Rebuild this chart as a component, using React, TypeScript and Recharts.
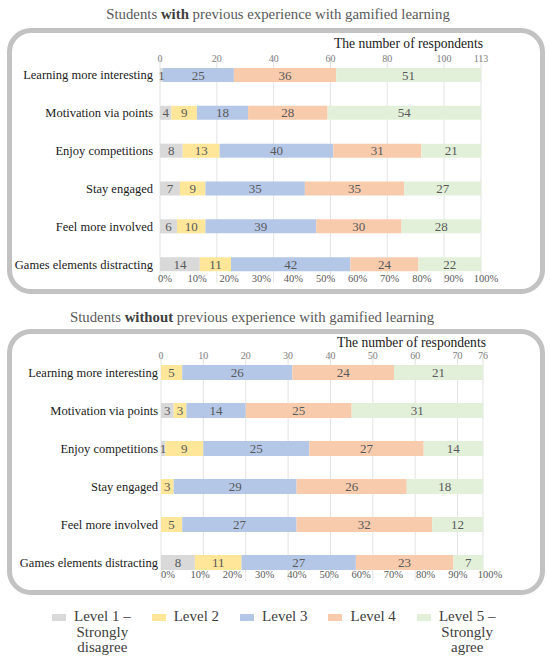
import React from 'react';
import { BarChart, Bar, XAxis, YAxis, CartesianGrid, LabelList } from 'recharts';

const categories = [
  'Learning more interesting',
  'Motivation via points',
  'Enjoy competitions',
  'Stay engaged',
  'Feel more involved',
  'Games elements distracting',
];

const levelNames = ['Level 1 – Strongly disagree', 'Level 2', 'Level 3', 'Level 4', 'Level 5 – Strongly agree'];
const legendLines = [['Level 1 –', 'Strongly', 'disagree'], ['Level 2'], ['Level 3'], ['Level 4'], ['Level 5 –', 'Strongly', 'agree']];
const COLORS = ['#d9d9d9', '#ffe699', '#b4c7e7', '#f8cbad', '#e2f0d9'];

// students with previous experience (n = 113)
const withL1 = [1, 4, 8, 7, 6, 14];
const withL2 = [0, 9, 13, 9, 10, 11];
const withL3 = [25, 18, 40, 35, 39, 42];
const withL4 = [36, 28, 31, 35, 30, 24];
const withL5 = [51, 54, 21, 27, 28, 22];
const withTicks = [0, 20, 40, 60, 80, 100, 113];

// students without previous experience (n = 76)
const withoutL1 = [0, 3, 1, 0, 0, 8];
const withoutL2 = [5, 3, 9, 3, 5, 11];
const withoutL3 = [26, 14, 25, 29, 27, 27];
const withoutL4 = [24, 25, 27, 26, 32, 23];
const withoutL5 = [21, 31, 14, 18, 12, 7];
const withoutTicks = [0, 10, 20, 30, 40, 50, 60, 70, 76];

const percentTicks = [0, 10, 20, 30, 40, 50, 60, 70, 80, 90, 100];

const FONT = '"Liberation Serif", "Times New Roman", serif';

const buildRows = (levels: number[][]) =>
  categories.map((name, i) => {
    const row: any = { name };
    levels.forEach((vals, k) => {
      row['l' + (k + 1)] = vals[i];
    });
    return row;
  });

const withData = buildRows([withL1, withL2, withL3, withL4, withL5]);
const withoutData = buildRows([withoutL1, withoutL2, withoutL3, withoutL4, withoutL5]);

const ValueLabel = (props: any) => {
  const { x, y, width, height, value } = props;
  if (!value) return null;
  return (
    <text
      x={x + width / 2}
      y={y + height / 2 + 4.5}
      textAnchor="middle"
      fontSize={13}
      style={{ fontFamily: FONT }}
      fill="#595959"
    >
      {value}
    </text>
  );
};

type PanelProps = {
  data: any[];
  total: number;
  ticks: number[];
  margin: { top: number; right: number; bottom: number; left: number };
  countY: number;
  pctY: number;
  pctDx: number;
  catDx: number;
  barSize: number;
};

const Panel = ({ data, total, ticks, margin, countY, pctY, pctDx, catDx, barSize }: PanelProps) => (
  <BarChart width={550} height={305} data={data} layout="vertical" margin={margin} barCategoryGap={0}>
    <CartesianGrid xAxisId="n" horizontal={false} stroke="#e3e3e3" />
    <XAxis
      xAxisId="n"
      type="number"
      orientation="top"
      domain={[0, total]}
      ticks={ticks}
      height={20}
      axisLine={false}
      tickLine={false}
      interval={0}
      tick={(p: any) => (
        <text x={p.x} y={countY} textAnchor="middle" fontSize={10} style={{ fontFamily: FONT }} fill="#7f7f7f">
          {p.payload.value}
        </text>
      )}
    />
    <XAxis
      xAxisId="p"
      type="number"
      orientation="bottom"
      domain={[0, 100]}
      ticks={percentTicks}
      height={20}
      axisLine={false}
      tickLine={false}
      interval={0}
      tick={(p: any) => (
        <text x={p.x + pctDx} y={pctY} textAnchor="middle" fontSize={10.5} style={{ fontFamily: FONT }} fill="#595959">
          {p.payload.value + '%'}
        </text>
      )}
    />
    <YAxis
      type="category"
      dataKey="name"
      width={150}
      axisLine={false}
      tickLine={false}
      interval={0}
      tick={(p: any) => (
        <text x={p.x + catDx} y={p.y + 4.5} textAnchor="end" fontSize={12.5} style={{ fontFamily: FONT }} fill="#1a1a1a">
          {p.payload.value}
        </text>
      )}
    />
    {COLORS.map((c, k) => (
      <Bar
        key={k}
        xAxisId="n"
        dataKey={'l' + (k + 1)}
        name={levelNames[k]}
        stackId="a"
        fill={c}
        barSize={barSize}
        isAnimationActive={false}
      >
        <LabelList dataKey={'l' + (k + 1)} content={ValueLabel} />
      </Bar>
    ))}
    {/* empty series so the percent axis gets drawn */}
    <Bar xAxisId="p" dataKey={() => 0} stackId="a" fill="none" barSize={barSize} isAnimationActive={false} />
  </BarChart>
);

const boxStyle = (top: number): React.CSSProperties => ({
  position: 'absolute',
  left: 7,
  top,
  width: 538,
  height: 266,
  border: '5px solid #c2c2c2',
  borderRadius: 24,
  boxSizing: 'border-box',
});

const textStyle = (left: number, top: number, width: number, size: number, align: any): React.CSSProperties => ({
  position: 'absolute',
  left,
  top,
  width,
  fontSize: size,
  textAlign: align,
  color: '#595959',
  lineHeight: 1,
  whiteSpace: 'nowrap',
});

export default function App() {
  return (
    <div
      style={{
        position: 'absolute',
        left: 0,
        top: 0,
        width: 550,
        height: 658,
        background: '#fff',
        fontFamily: FONT,
        overflow: 'hidden',
      }}
    >
      <div style={textStyle(28, 7, 500, 14.8, 'center')}>
        Students <b style={{ color: '#404040' }}>with</b> previous experience with gamified learning
      </div>
      <div style={textStyle(2, 310, 500, 14.8, 'center')}>
        Students <b style={{ color: '#404040' }}>without</b> previous experience with gamified learning
      </div>
      <div style={boxStyle(28)} />
      <div style={boxStyle(329)} />
      <div style={{ ...textStyle(283, 37, 200, 13.6, 'right'), color: '#1a1a1a' }}>The number of respondents</div>
      <div style={{ ...textStyle(286, 336, 200, 13.6, 'right'), color: '#1a1a1a' }}>The number of respondents</div>

      <div style={{ position: 'absolute', left: 0, top: 0 }}>
        <Panel
          data={withData}
          total={113}
          ticks={withTicks}
          margin={{ top: 36, right: 69, bottom: 2, left: 10 }}
          countY={62}
          pctY={282}
          pctDx={5}
          catDx={1}
          barSize={14}
        />
      </div>
      <div style={{ position: 'absolute', left: 0, top: 300 }}>
        <Panel
          data={withoutData}
          total={76}
          ticks={withoutTicks}
          margin={{ top: 33, right: 67, bottom: 4, left: 11 }}
          countY={59}
          pctY={278}
          pctDx={7}
          catDx={5}
          barSize={15}
        />
      </div>

      <div
        style={{
          position: 'absolute',
          left: 52,
          top: 609,
          display: 'flex',
          alignItems: 'flex-start',
          color: '#404040',
          fontSize: 15,
          lineHeight: '15.5px',
        }}
      >
        {legendLines.map((lines, k) => (
          <div key={k} style={{ display: 'flex', alignItems: 'flex-start', marginRight: k === 4 ? 0 : 21 }}>
            <div style={{ width: 14, height: 7, background: COLORS[k], marginTop: 5, marginRight: 8 }} />
            <div style={{ textAlign: 'center' }}>
              {lines.map((l, j) => (
                <div key={j}>{l}</div>
              ))}
            </div>
          </div>
        ))}
      </div>
    </div>
  );
}
